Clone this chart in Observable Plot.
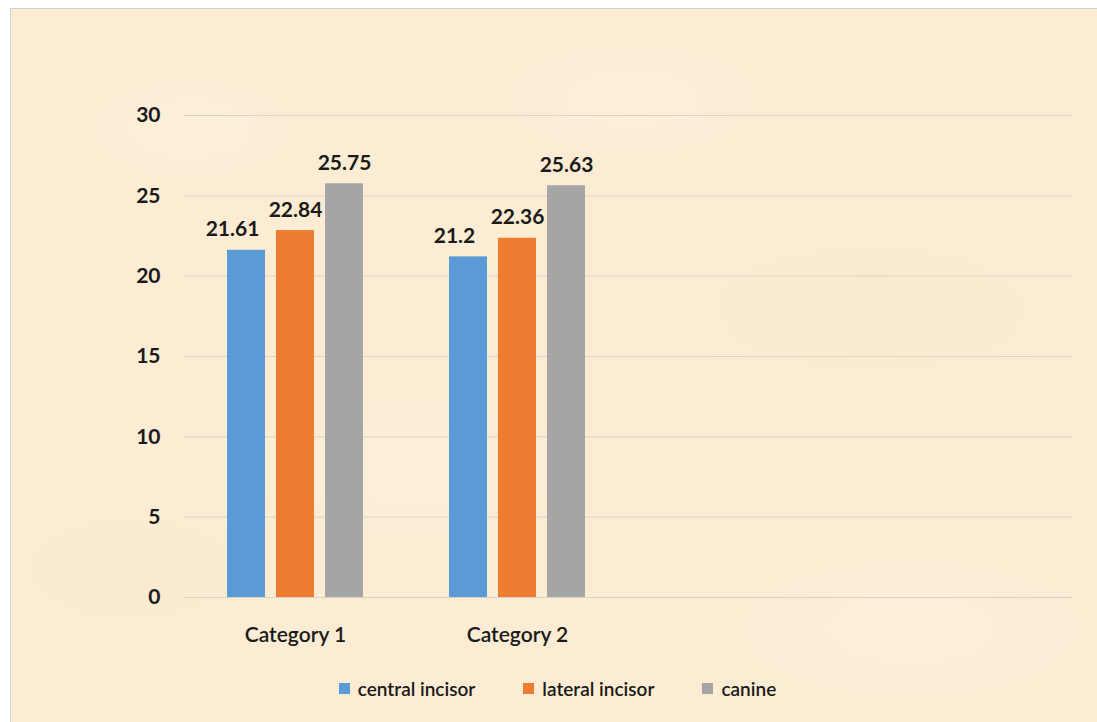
<!DOCTYPE html>
<html>
<head>
<meta charset="utf-8">
<script src="https://cdn.jsdelivr.net/npm/d3@7"></script>
<script src="https://cdn.jsdelivr.net/npm/@observablehq/plot@0.6"></script>
<style>
  html, body { margin: 0; padding: 0; background: #ffffff; }
  body { width: 1097px; height: 722px; position: relative; overflow: hidden; font-family: Lato, "Open Sans", sans-serif; }
  #frame {
    position: absolute; left: 10px; top: 8px; width: 1095px; height: 720px;
    border: 1px solid #c9d3da;
    background-color: #fbecd3;
    background-image:
      radial-gradient(ellipse 120px 60px at 180px 120px, rgba(255,248,235,0.3), rgba(255,248,235,0)),
      radial-gradient(ellipse 160px 70px at 620px 90px, rgba(255,248,235,0.25), rgba(255,248,235,0)),
      radial-gradient(ellipse 200px 80px at 860px 300px, rgba(245,226,192,0.25), rgba(245,226,192,0)),
      radial-gradient(ellipse 180px 90px at 400px 460px, rgba(255,248,235,0.25), rgba(255,248,235,0)),
      radial-gradient(ellipse 220px 90px at 900px 620px, rgba(255,246,230,0.3), rgba(255,246,230,0)),
      radial-gradient(ellipse 140px 70px at 120px 560px, rgba(246,228,196,0.25), rgba(246,228,196,0));
  }
  #chart { position: absolute; left: 0; top: 0; }
  #legend {
    position: absolute; left: 14px; width: 1087px; top: 677px;
    display: flex; justify-content: center; gap: 48px;
    font-size: 19px; color: #1a1a1a; font-weight: 600;
  }
  #legend .item { display: flex; align-items: center; gap: 8px; }
  #legend .sw { width: 11px; height: 11px; display: inline-block; }
</style>
</head>
<body>
<div id="frame"></div>
<div id="chart"></div>
<div id="legend"></div>
<script>
const categories = ["Category 1", "Category 2", "Category 3", "Category 4"];
const categoryLabels = ["Category 1", "Category 2", "", ""];
const series = ["central incisor", "lateral incisor", "canine"];
const category1Values = [21.61, 22.84, 25.75];
const category2Values = [21.2, 22.36, 25.63];
const seriesColors = ["#5b9bd5", "#ed7d31", "#a5a5a5"];
const yTicks = [0, 5, 10, 15, 20, 25, 30];

const valuesByCategory = [category1Values, category2Values];
const rows = valuesByCategory.flatMap((vals, ci) =>
  vals.map((v, si) => ({ category: categories[ci], series: series[si], value: v }))
);
// gridlines in every category band (including empty ones)
const gridRows = categories.flatMap(c => yTicks.map(t => ({ category: c, tick: t })));

const labelOpts = {
  fx: "category", x: "series", y: "value", text: d => String(d.value),
  lineAnchor: "bottom", dy: -14, fontSize: 21, fontWeight: "bold", fill: "#1a1a1a"
};

const chart = Plot.plot({
  width: 1097,
  height: 660,
  marginLeft: 184,
  marginRight: 25,
  marginTop: 115,
  marginBottom: 63,
  style: { background: "transparent", fontFamily: "Lato, 'Open Sans', sans-serif", color: "#1a1a1a" },
  fx: {
    domain: categories, padding: 0, label: null, axis: "bottom",
    tickSize: 0, tickPadding: 30,
    tickFormat: d => categoryLabels[categories.indexOf(d)]
  },
  x: { domain: series, paddingInner: 0.232, paddingOuter: 0.858, axis: null },
  y: { domain: [0, 30], ticks: yTicks, label: null, tickSize: 0, tickPadding: 24 },
  color: { domain: series, range: seriesColors },
  marks: [
    Plot.ruleY(gridRows, { fx: "category", y: "tick", stroke: "#d9d3c7", strokeWidth: 1 }),
    Plot.barY(rows, { fx: "category", x: "series", y: "value", fill: "series" }),
    Plot.text(rows.filter(d => d.series === series[0]), { ...labelOpts, dx: -14 }),
    Plot.text(rows.filter(d => d.series !== series[0]), labelOpts)
  ]
});

chart.querySelectorAll("[aria-label='y-axis tick label']").forEach(n => {
  n.setAttribute("font-size", "21"); n.setAttribute("font-weight", "bold");
});
chart.querySelectorAll("[aria-label='fx-axis tick label']").forEach(n => {
  n.setAttribute("font-size", "21"); n.setAttribute("font-weight", "600");
});
document.getElementById("chart").appendChild(chart);

const legend = document.getElementById("legend");
series.forEach((s, i) => {
  const item = document.createElement("div");
  item.className = "item";
  const sw = document.createElement("span");
  sw.className = "sw";
  sw.style.background = seriesColors[i];
  const t = document.createElement("span");
  t.textContent = s;
  item.appendChild(sw); item.appendChild(t);
  legend.appendChild(item);
});
</script>
</body>
</html>
